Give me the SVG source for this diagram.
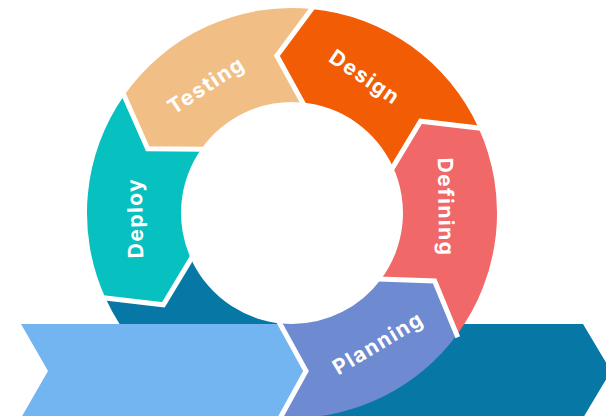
<svg xmlns="http://www.w3.org/2000/svg" width="606" height="416" viewBox="0 0 606 416">
  <style>
    .label { font-family: Inter, "Liberation Sans", sans-serif; font-weight: 700; font-size: 21px; letter-spacing: 1.5px; fill: #ffffff; text-anchor: middle; dominant-baseline: central; }
    .gap { fill: none; stroke: #ffffff; stroke-width: 5; stroke-linejoin: miter; stroke-linecap: square; }
  </style>
  <rect width="606" height="416" fill="#ffffff"/>

  <!-- outgoing stage: last ring segment unrolled into a straight band -->
  <g id="release">
    <path d="M292,324 L583,324 L611,371 L583,418 L292,418 A205,205 0 0 1 105.4,298 L163.4,304.8 L191,259 A111,111 0 0 0 292,324 Z" fill="#0778A5"/>
  </g>

  <g id="planning">
    <path d="M275,324 L292,324 A111,111 0 0 0 381.2,279 L434.6,281 L456.8,334.9 A205,205 0 0 1 292,418 L275,418 Z" fill="#6E8AD1"/>
    <text class="label" transform="translate(378,343) rotate(-31)">Planning</text>
  </g>

  <g id="defining">
    <path d="M478.6,128 A205,205 0 0 1 456.8,334.9 L434.6,281 L381.2,279 A111,111 0 0 0 393,167 L420.6,121.2 Z" fill="#F06868"/>
    <text class="label" transform="translate(446,207) rotate(89)">Defining</text>
  </g>

  <g id="design">
    <path d="M311.6,8.9 A205,205 0 0 1 478.6,128 L420.6,121.2 L393,167 A111,111 0 0 0 302.6,102.5 L276.9,55.7 Z" fill="#F15C05"/>
    <text class="label" transform="translate(365,77) rotate(34)">Design</text>
  </g>

  <g id="testing">
    <path d="M124.1,95.4 A205,205 0 0 1 311.6,8.9 L276.9,55.7 L302.6,102.5 A111,111 0 0 0 201.1,149.3 L147.7,148.7 Z" fill="#F1BF86"/>
    <text class="label" transform="translate(206,85) rotate(-33)">Testing</text>
  </g>

  <g id="deploy">
    <path d="M105.4,298 A205,205 0 0 1 124.1,95.4 L147.7,148.7 L201.1,149.3 A111,111 0 0 0 191,259 L163.4,304.8 Z" fill="#07C0C0"/>
    <text class="label" transform="translate(135,218) rotate(-91)">Deploy</text>
  </g>

  <!-- incoming stage: straight band feeding the ring -->
  <g id="intake">
    <path d="M21,324 L279,324 L306,371 L279,418 L21,418 L48,371 Z" fill="#73B5F1"/>
  </g>

  <!-- white separators between the chevron ends -->
  <g id="connectors">
    <path class="gap" d="M456.8,334.9 L434.6,281 L381.2,279"/>
    <path class="gap" d="M478.6,128 L420.6,121.2 L393,167"/>
    <path class="gap" d="M311.6,8.9 L276.9,55.7 L302.6,102.5"/>
    <path class="gap" d="M124.1,95.4 L147.7,148.7 L201.1,149.3"/>
    <path class="gap" d="M105.4,298 L163.4,304.8 L191,259"/>
    <path class="gap" d="M279,322 L306,371 L279,420"/>
  </g>
</svg>
